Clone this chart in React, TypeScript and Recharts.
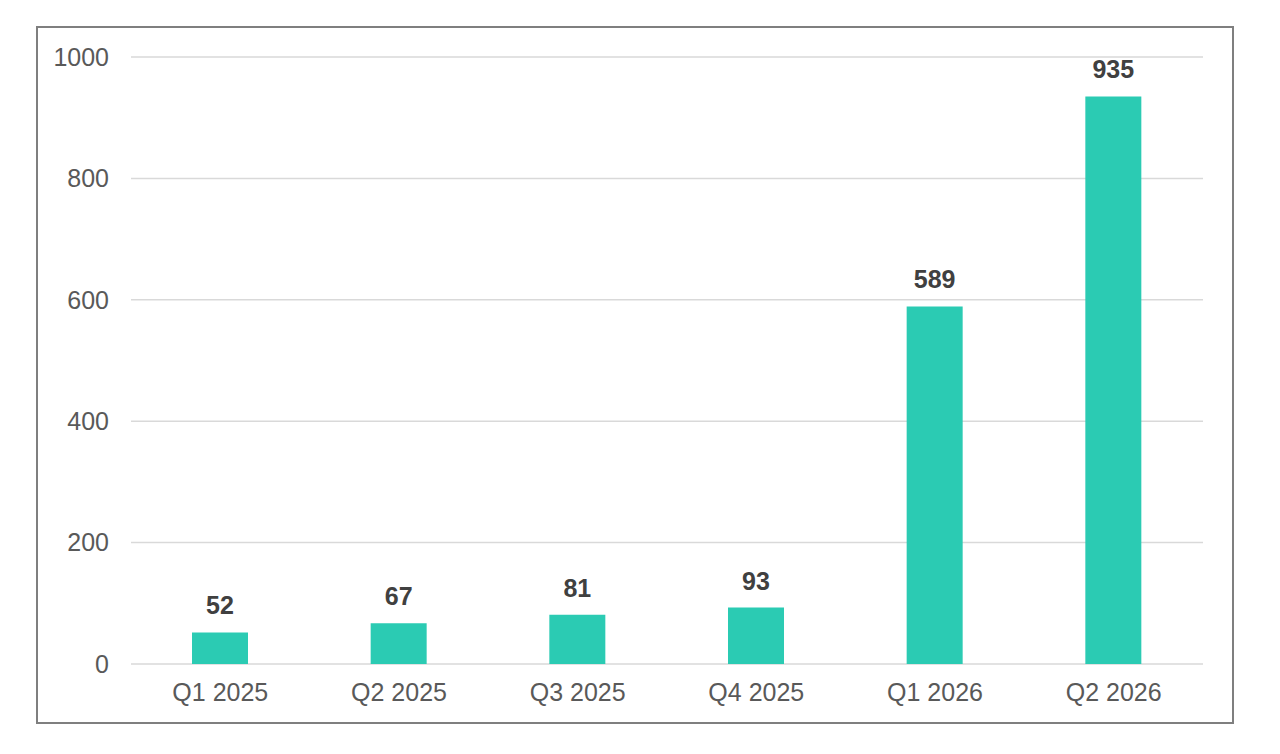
import { BarChart, Bar, XAxis, YAxis, CartesianGrid, LabelList } from "recharts";

const quarters = ["Q1 2025", "Q2 2025", "Q3 2025", "Q4 2025", "Q1 2026", "Q2 2026"];
const counts = [52, 67, 81, 93, 589, 935];
const yTicks = [0, 200, 400, 600, 800, 1000];

const data = quarters.map((quarter, i) => ({ quarter, count: counts[i] }));

const FONT = '"Liberation Sans", Arial, sans-serif';

export default function App() {
  return (
    <div
      style={{
        marginLeft: 28,
        marginTop: 18,
        width: 1198,
        height: 698,
        border: "2px solid #7f7f7f",
        boxSizing: "border-box",
        background: "#fff",
        fontFamily: FONT,
      }}
    >
      <BarChart
        width={1194}
        height={694}
        data={data}
        margin={{ top: 29, right: 29, left: 0, bottom: 0 }}
      >
        <CartesianGrid vertical={false} stroke="#d9d9d9" strokeWidth={1.5} />
        <XAxis
          dataKey="quarter"
          axisLine={false}
          tickLine={false}
          tickSize={0}
          tickMargin={19}
          height={58}
          tick={{ fontSize: 25, fill: "#595959", fontFamily: FONT }}
        />
        <YAxis
          domain={[0, 1000]}
          ticks={yTicks}
          axisLine={false}
          tickLine={false}
          tickSize={0}
          tickMargin={22}
          width={93}
          tick={{ fontSize: 25, fill: "#595959", fontFamily: FONT }}
        />
        <Bar dataKey="count" fill="#2bcbb3" barSize={56} isAnimationActive={false}>
          <LabelList
            dataKey="count"
            position="top"
            offset={18}
            style={{ fontSize: 25, fontWeight: 700, fill: "#404040", fontFamily: FONT }}
          />
        </Bar>
      </BarChart>
    </div>
  );
}
